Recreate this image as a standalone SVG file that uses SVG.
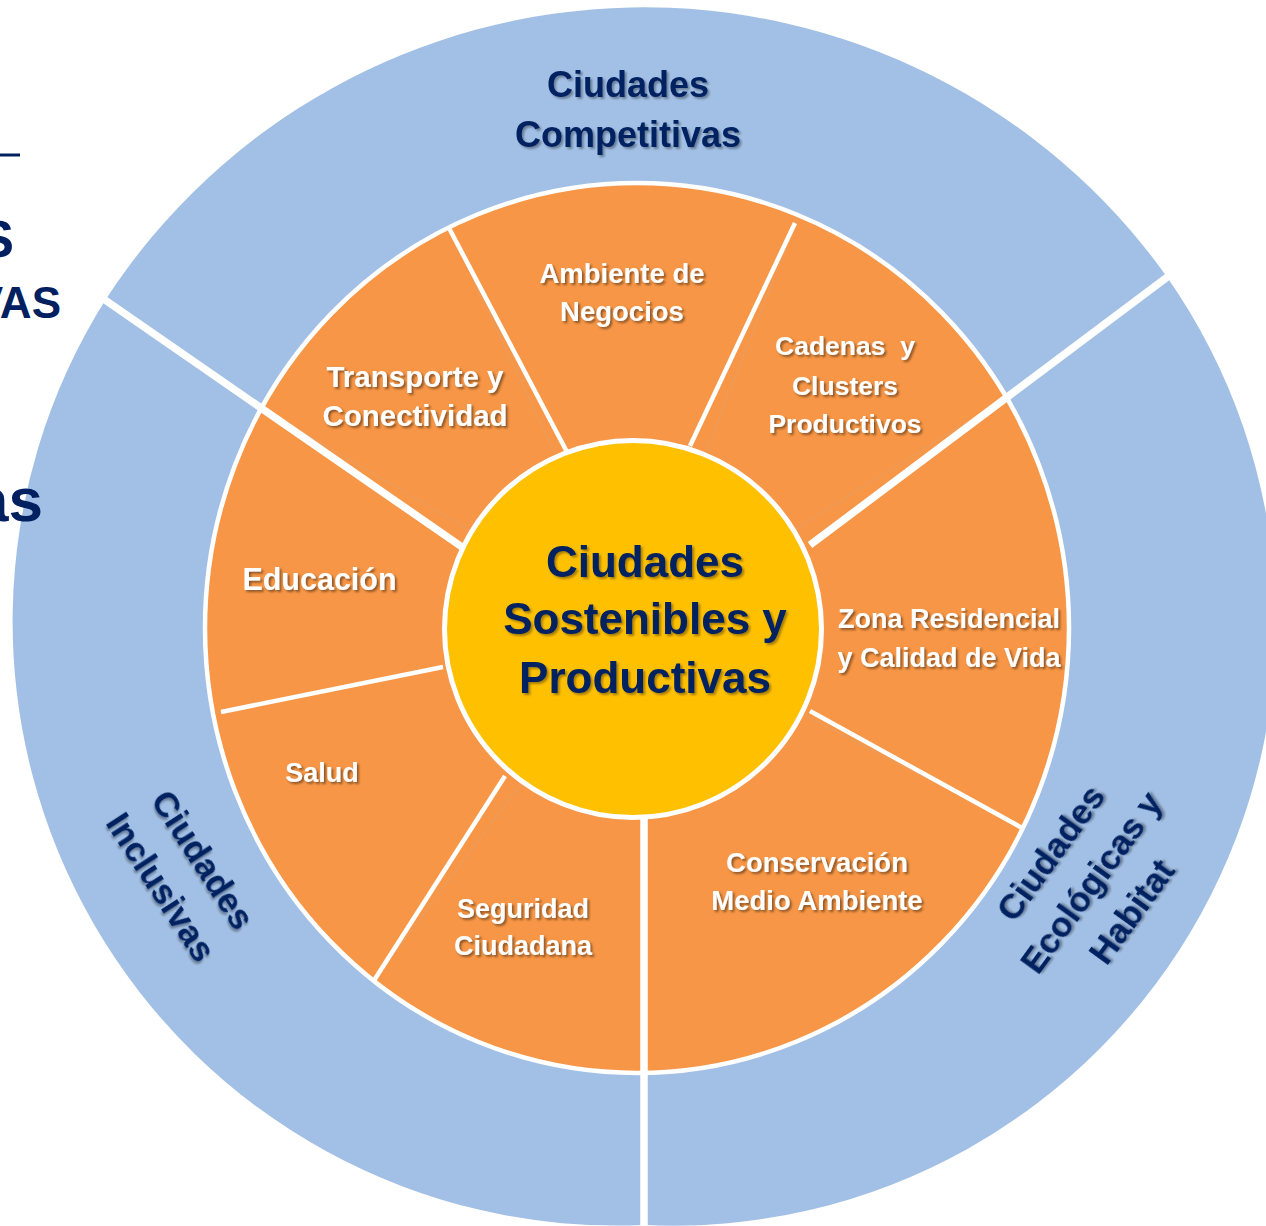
<svg xmlns="http://www.w3.org/2000/svg" width="1266" height="1226" viewBox="0 0 1266 1226">
  <defs>
    <style>
      .blue { fill: #A2C0E5; }
      .orange { fill: #F79646; }
      .center { fill: #FFC000; stroke: #FFFFFF; stroke-width: 5; }
      .navy { fill: #002060; font-family: "Liberation Sans", Arial, sans-serif; font-weight: bold; }
      .wt { fill: #FFFFFF; font-family: "Liberation Sans", Arial, sans-serif; font-weight: bold; text-anchor: middle; filter: url(#shw); }
      .nt { fill: #002060; font-family: "Liberation Sans", Arial, sans-serif; font-weight: bold; text-anchor: middle; filter: url(#shn); }
      .thin { stroke: #FFFFFF; stroke-width: 4.5; fill: none; }
      .thick { stroke: #FFFFFF; stroke-width: 7.5; fill: none; }
    </style>
    <filter id="shw" x="-10%" y="-20%" width="130%" height="160%">
      <feDropShadow dx="2" dy="2" stdDeviation="1.2" flood-color="#4a2a10" flood-opacity="0.6"/>
    </filter>
    <filter id="shn" x="-10%" y="-20%" width="130%" height="160%">
      <feDropShadow dx="2" dy="2" stdDeviation="1.2" flood-color="#000000" flood-opacity="0.35"/>
    </filter>
  </defs>

  <rect x="0" y="0" width="1266" height="1226" fill="#FFFFFF"/>

  <!-- Outer blue ring segments -->
  <g id="ciudades-competitivas">
    <path class="blue" d="M 642 671 L 106 299 A 642 642 0 0 1 1167 277 Z"/>
    <text class="nt" font-size="36"><tspan x="628" y="97">Ciudades</tspan><tspan x="628" y="147">Competitivas</tspan></text>
  </g>
  <g id="ciudades-ecologicas">
    <path class="blue" d="M 642 671 L 1167 277 A 603 603 0 0 1 644 1225 Z"/>
    <g transform="translate(1092 883) rotate(-54)">
      <text class="nt" font-size="35"><tspan x="0" y="-39">Ciudades</tspan><tspan x="0" y="11">Ecológicas y</tspan><tspan x="0" y="61">Habitat</tspan></text>
    </g>
  </g>
  <g id="ciudades-inclusivas">
    <path class="blue" d="M 642 671 L 644 1225 A 604 604 0 0 1 106 299 Z"/>
    <g transform="translate(181 874) rotate(57)">
      <text class="nt" font-size="35"><tspan x="0" y="-14">Ciudades</tspan><tspan x="0" y="36">Inclusivas</tspan></text>
    </g>
  </g>

  <!-- Orange ring segments -->
  <g id="ambiente-negocios">
    <path class="orange" d="M 637 628 L 448.6 227.3 A 432 445 0 0 1 798.7 215.2 Z"/>
    <text class="wt" font-size="27.5"><tspan x="622" y="283">Ambiente de</tspan><tspan x="622" y="321">Negocios</tspan></text>
  </g>
  <g id="cadenas-clusters">
    <path class="orange" d="M 637 628 L 798.7 215.2 A 432 445 0 0 1 1006.5 397.2 Z"/>
    <text class="wt" font-size="26.5"><tspan x="845" y="355">Cadenas&#160; y</tspan><tspan x="845" y="395">Clusters</tspan><tspan x="845" y="433">Productivos</tspan></text>
  </g>
  <g id="zona-residencial">
    <path class="orange" d="M 637 628 L 1006.5 397.2 A 432 445 0 0 1 1022.8 828.5 Z"/>
    <text class="wt" font-size="27"><tspan x="949" y="628">Zona Residencial</tspan><tspan x="949" y="667">y Calidad de Vida</tspan></text>
  </g>
  <g id="conservacion">
    <path class="orange" d="M 637 628 L 1022.8 828.5 A 432 445 0 0 1 644 1072.9 Z"/>
    <text class="wt" font-size="27.5"><tspan x="817" y="872">Conservación</tspan><tspan x="817" y="910">Medio Ambiente</tspan></text>
  </g>
  <g id="seguridad">
    <path class="orange" d="M 637 628 L 644 1072.9 A 432 445 0 0 1 373.7 981 Z"/>
    <text class="wt" font-size="27"><tspan x="523" y="918">Seguridad</tspan><tspan x="523" y="955">Ciudadana</tspan></text>
  </g>
  <g id="salud">
    <path class="orange" d="M 637 628 L 373.7 981 A 432 445 0 0 1 213 713.4 Z"/>
    <text class="wt" font-size="27" x="322" y="782">Salud</text>
  </g>
  <g id="educacion">
    <path class="orange" d="M 637 628 L 213 713.4 A 432 445 0 0 1 261.3 408.1 Z"/>
    <text class="wt" font-size="30.5" x="319.5" y="590">Educación</text>
  </g>
  <g id="transporte">
    <path class="orange" d="M 637 628 L 261.3 408.1 A 432 445 0 0 1 448.6 227.3 Z"/>
    <text class="wt" font-size="29.5"><tspan x="415" y="387">Transporte y</tspan><tspan x="415" y="426">Conectividad</tspan></text>
  </g>

  <!-- Connectors / dividers -->
  <g id="connectors">
    <ellipse class="thin" cx="637" cy="628" rx="432" ry="445"/>
    <line class="thin" x1="567" y1="452" x2="448.6" y2="227.3"/>
    <line class="thin" x1="690" y1="446" x2="795" y2="223"/>
    <line class="thin" x1="810" y1="711" x2="1024" y2="829"/>
    <line class="thin" x1="505" y1="776" x2="373" y2="982"/>
    <line class="thin" x1="443" y1="667" x2="221" y2="712"/>
    <line class="thick" x1="462" y1="547" x2="100" y2="296.5"/>
    <line class="thick" x1="810" y1="545" x2="1172" y2="273.5"/>
    <line class="thick" x1="644" y1="800" x2="644" y2="1230" stroke-width="8.5"/>
  </g>

  <!-- Center -->
  <g id="ciudades-sostenibles">
    <circle class="center" cx="633" cy="629" r="188.5"/>
    <text class="nt" font-size="44"><tspan x="645" y="577">Ciudades</tspan><tspan x="645" y="634">Sostenibles y</tspan><tspan x="645" y="693">Productivas</tspan></text>
  </g>

  <!-- Cut-off slide text on the left -->
  <g id="left-text">
    <rect x="0" y="153.5" width="20" height="3" fill="#002060"/>
    <text class="navy" font-size="52" x="14" y="257" text-anchor="end">S</text>
    <text class="navy" font-size="44" x="61" y="318" text-anchor="end">VAS</text>
    <text class="navy" font-size="62" x="43" y="521" text-anchor="end">as</text>
  </g>
</svg>
